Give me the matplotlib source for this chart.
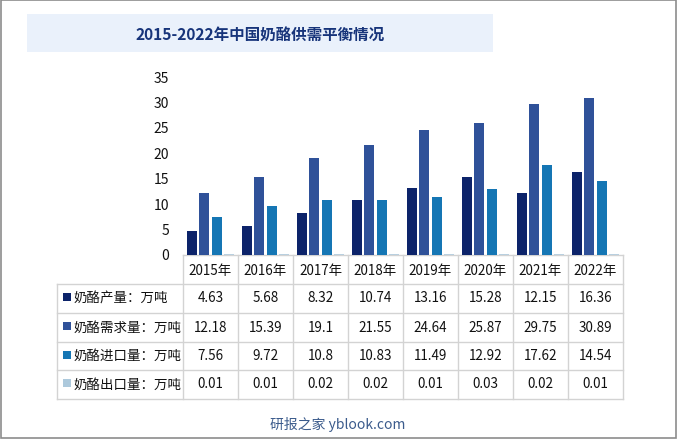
import matplotlib
matplotlib.use("Agg")
import matplotlib.pyplot as plt
from matplotlib.patches import Rectangle
import numpy as np

plt.rcParams['font.family'] = ['Noto Sans CJK SC', 'DejaVu Sans']

title = "2015-2022年中国奶酪供需平衡情况"
years = ["2015年", "2016年", "2017年", "2018年", "2019年", "2020年", "2021年", "2022年"]
series_names = ["奶酪产量：万吨", "奶酪需求量：万吨", "奶酪进口量：万吨", "奶酪出口量：万吨"]
production = [4.63, 5.68, 8.32, 10.74, 13.16, 15.28, 12.15, 16.36]
demand = [12.18, 15.39, 19.1, 21.55, 24.64, 25.87, 29.75, 30.89]
imports = [7.56, 9.72, 10.8, 10.83, 11.49, 12.92, 17.62, 14.54]
exports = [0.01, 0.01, 0.02, 0.02, 0.01, 0.03, 0.02, 0.01]
value_labels = [
    ["4.63", "5.68", "8.32", "10.74", "13.16", "15.28", "12.15", "16.36"],
    ["12.18", "15.39", "19.1", "21.55", "24.64", "25.87", "29.75", "30.89"],
    ["7.56", "9.72", "10.8", "10.83", "11.49", "12.92", "17.62", "14.54"],
    ["0.01", "0.01", "0.02", "0.02", "0.01", "0.03", "0.02", "0.01"],
]
colors = ["#0c236a", "#2f5199", "#1576b4", "#adc9dc"]
footer = "研报之家 yblook.com"

W, H = 677, 440
fig = plt.figure(figsize=(W / 100, H / 100), dpi=100)

ov = fig.add_axes([0, 0, 1, 1])
ov.set_xlim(0, W)
ov.set_ylim(H, 0)
ov.axis('off')

ov.add_patch(Rectangle((0.5, 0.5), W - 1.5, H - 2, fill=False, edgecolor="#8c8c8c", lw=1.2))
ov.add_patch(Rectangle((27, 14), 466, 38, facecolor="#eaf1fb", edgecolor="none"))
ov.text(260, 35, title, ha='center', va='center', fontsize=11.2, fontweight='bold', color="#17347a")

x0, colw, ybase, ytop = 183, 55, 255, 77
ax = fig.add_axes([x0 / W, (H - ybase) / H, colw * len(years) / W, (ybase - ytop) / H])
ax.set_xlim(-0.5, len(years) - 0.5)
ax.set_ylim(0, 35)
ax.set_yticks(np.arange(0, 36, 5))
ax.set_xticks([])
for s in ax.spines.values():
    s.set_visible(False)
ax.tick_params(axis='y', length=0, pad=10, labelsize=10, labelcolor="#111111")
for t in ax.get_yticklabels():
    t.set_fontweight('medium')
ax.patch.set_alpha(0)

x = np.arange(len(years))
step = 0.224
bw = 0.185
for i, vals in enumerate([production, demand, imports, exports]):
    ax.bar(x + (i - 1.5) * step, vals, width=bw, color=colors[i],
           edgecolor=colors[i], linewidth=1.2 if i == 3 else 0)

lc = "#d3d3d3"
row_y = [255, 284, 313, 342, 370, 399]
xl, xr = 57, x0 + colw * len(years)
ov.plot([x0, xr], [row_y[0], row_y[0]], color=lc, lw=1)
for y in row_y[1:]:
    ov.plot([xl, xr], [y, y], color=lc, lw=1)
for k in range(len(years) + 1):
    xv = x0 + k * colw
    ov.plot([xv, xv], [row_y[0], row_y[-1]], color=lc, lw=1)
ov.plot([xl, xl], [row_y[1], row_y[-1]], color=lc, lw=1)

fs = 9.7
for k, yl in enumerate(years):
    ov.text(x0 + (k + 0.5) * colw, (row_y[0] + row_y[1]) / 2 + 1, yl, ha='center', va='center',
            fontsize=fs, color="#111111", fontweight='medium')

for r, name in enumerate(series_names):
    yc = (row_y[r + 1] + row_y[r + 2]) / 2
    ov.add_patch(Rectangle((63, yc - 5), 8, 8, facecolor=colors[r], edgecolor='none'))
    ov.text(74, yc, name, ha='left', va='center', fontsize=fs, color="#111111", fontweight='medium')
    for k, v in enumerate(value_labels[r]):
        ov.text(x0 + (k + 0.5) * colw, yc, v, ha='center', va='center',
                fontsize=fs, color="#111111", fontweight='medium')

ov.text(338, 425, footer, ha='center', va='center', fontsize=10, color="#3b5b8c")

fig.savefig("out.png", dpi=100)
